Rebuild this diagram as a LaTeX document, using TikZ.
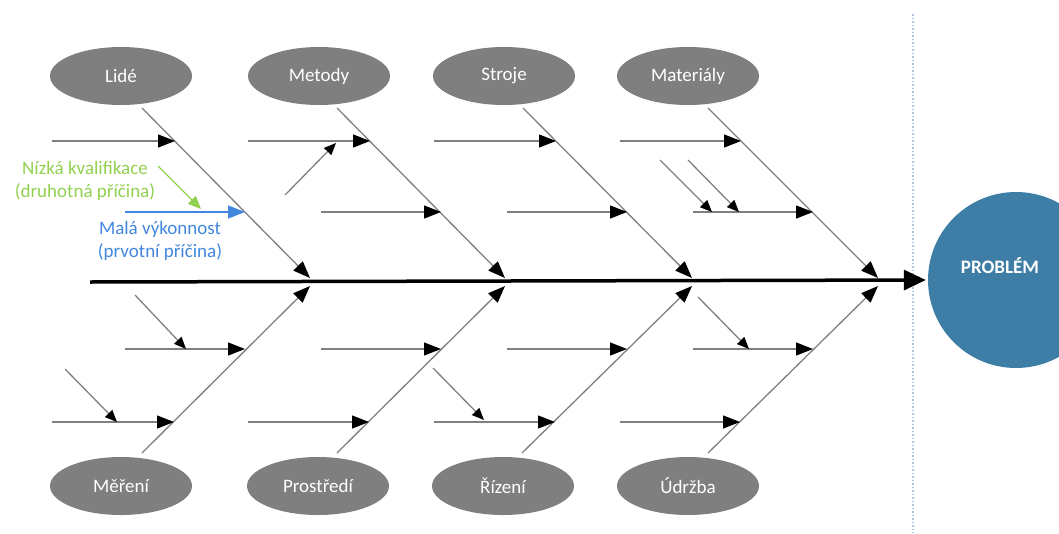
\documentclass[tikz,border=0pt]{standalone}
\usepackage{fontspec}
\setmainfont{Carlito}
\usetikzlibrary{arrows.meta,shapes.geometric}
\definecolor{bonegray}{RGB}{128,128,128}
\definecolor{ellgray}{RGB}{127,127,127}
\definecolor{probblue}{RGB}{62,126,166}
\definecolor{causeblue}{RGB}{66,135,222}
\definecolor{causegreen}{RGB}{146,208,80}
\definecolor{dotline}{RGB}{175,198,222}
\begin{document}
\begin{tikzpicture}[x=1pt,y=-1pt,
  cat/.style={ellipse, fill=ellgray, minimum width=142pt, minimum height=58pt, inner sep=0pt,
    text=white, font=\fontsize{19}{23}\selectfont},
  bone/.style={draw=bonegray, line width=1.3pt, -{Triangle[length=17pt,width=13pt,color=black]}},
  sub/.style={draw=bonegray, line width=1.3pt, -{Triangle[length=17pt,width=13pt,color=black]}},
  small/.style={draw=bonegray, line width=1.3pt, -{Triangle[length=12pt,width=10pt,color=black]}},
  lab/.style={align=center, font=\fontsize{19}{23}\selectfont}]
\useasboundingbox (0,0) rectangle (1059,533);
% separator
\draw[dotline, line width=1.5pt, dotted] (913,14) -- (913,533);
% problem
\node[circle, fill=probblue, minimum size=176pt, inner sep=0pt] (problem) at (1016,280) {};
\node[text=white, font=\fontsize{19}{23}\selectfont\bfseries] (problemtext) at (1000,266) {PROBLÉM};
% categories
\node[cat] (lide) at (121,76) {Lidé};
\node[cat] (metody) at (319,76) {Metody};
\node[cat] (stroje) at (504,76) {Stroje};
\node[cat] (materialy) at (688,76) {Materiály};
\node[cat] (mereni) at (121,486) {Měření};
\node[cat] (prostredi) at (318,486) {Prostředí};
\node[cat] (rizeni) at (503,486) {Řízení};
\node[cat] (udrzba) at (688,486) {Údržba};
% spine
\coordinate (spinestart) at (90,282);
\draw[line width=3.5pt, -{Triangle[length=22pt,width=20pt]}, shorten >=2pt] (spinestart) -- (problem.west);
% bone coordinates
\coordinate (b1s) at (142,108); \coordinate (b1e) at (310,278);
\coordinate (b2s) at (337,108); \coordinate (b2e) at (505,278);
\coordinate (b3s) at (523,108); \coordinate (b3e) at (692,278);
\coordinate (b4s) at (708,108); \coordinate (b4e) at (878,278);
\coordinate (b5s) at (142,453); \coordinate (b5e) at (310,286);
\coordinate (b6s) at (337,453); \coordinate (b6e) at (505,286);
\coordinate (b7s) at (522,453); \coordinate (b7e) at (692,286);
\coordinate (b8s) at (708,453); \coordinate (b8e) at (878,286);
\foreach \i in {1,...,8} {\draw[bone] (b\i s) -- (b\i e);}
% top sub causes
\coordinate (t1a) at (52,141);  \coordinate (t1b) at (175,141);
\coordinate (t2a) at (248,141); \coordinate (t2b) at (370,141);
\coordinate (t3a) at (434,141); \coordinate (t3b) at (556,141);
\coordinate (t4a) at (620,141); \coordinate (t4b) at (741,141);
\coordinate (t5a) at (321,212); \coordinate (t5b) at (441,212);
\coordinate (t6a) at (507,212); \coordinate (t6b) at (627,212);
\coordinate (t7a) at (693,212); \coordinate (t7b) at (813,212);
\foreach \i in {1,...,7} {\draw[sub] (t\i a) -- (t\i b);}
% bottom sub causes
\coordinate (u1a) at (125,349); \coordinate (u1b) at (245,349);
\coordinate (u2a) at (321,349); \coordinate (u2b) at (441,349);
\coordinate (u3a) at (507,349); \coordinate (u3b) at (627,349);
\coordinate (u4a) at (693,349); \coordinate (u4b) at (813,349);
\coordinate (u5a) at (52,422);  \coordinate (u5b) at (174,422);
\coordinate (u6a) at (248,422); \coordinate (u6b) at (369,422);
\coordinate (u7a) at (434,422); \coordinate (u7b) at (555,422);
\coordinate (u8a) at (620,422); \coordinate (u8b) at (740,422);
\foreach \i in {1,...,8} {\draw[sub] (u\i a) -- (u\i b);}
% small secondary arrows
\coordinate (s1a) at (285,195); \coordinate (s1b) at (336,143);
\coordinate (s2a) at (660,160); \coordinate (s2b) at (712,212);
\coordinate (s3a) at (688,160); \coordinate (s3b) at (739,212);
\coordinate (s4a) at (135,295); \coordinate (s4b) at (186,349);
\coordinate (s5a) at (65,369);  \coordinate (s5b) at (117,422);
\coordinate (s6a) at (433,368); \coordinate (s6b) at (484,420);
\coordinate (s7a) at (698,297); \coordinate (s7b) at (749,349);
\foreach \i in {1,...,7} {\draw[small] (s\i a) -- (s\i b);}
% example causes
\coordinate (bluea) at (125,212); \coordinate (blueb) at (245,212);
\draw[causeblue, line width=1.3pt, -{Triangle[length=17pt,width=13pt]}] (bluea) -- (blueb);
\coordinate (greena) at (158,166); \coordinate (greenb) at (201,209);
\draw[causegreen, line width=1.3pt, -{Triangle[length=13pt,width=11pt]}] (greena) -- (greenb);
\node[lab, text=causegreen] (secondary) at (85,181) {Nízká kvalifikace\\(druhotná příčina)};
\node[lab, text=causeblue] (primary) at (160,241) {Malá výkonnost\\(prvotní příčina)};
\end{tikzpicture}
\end{document}
